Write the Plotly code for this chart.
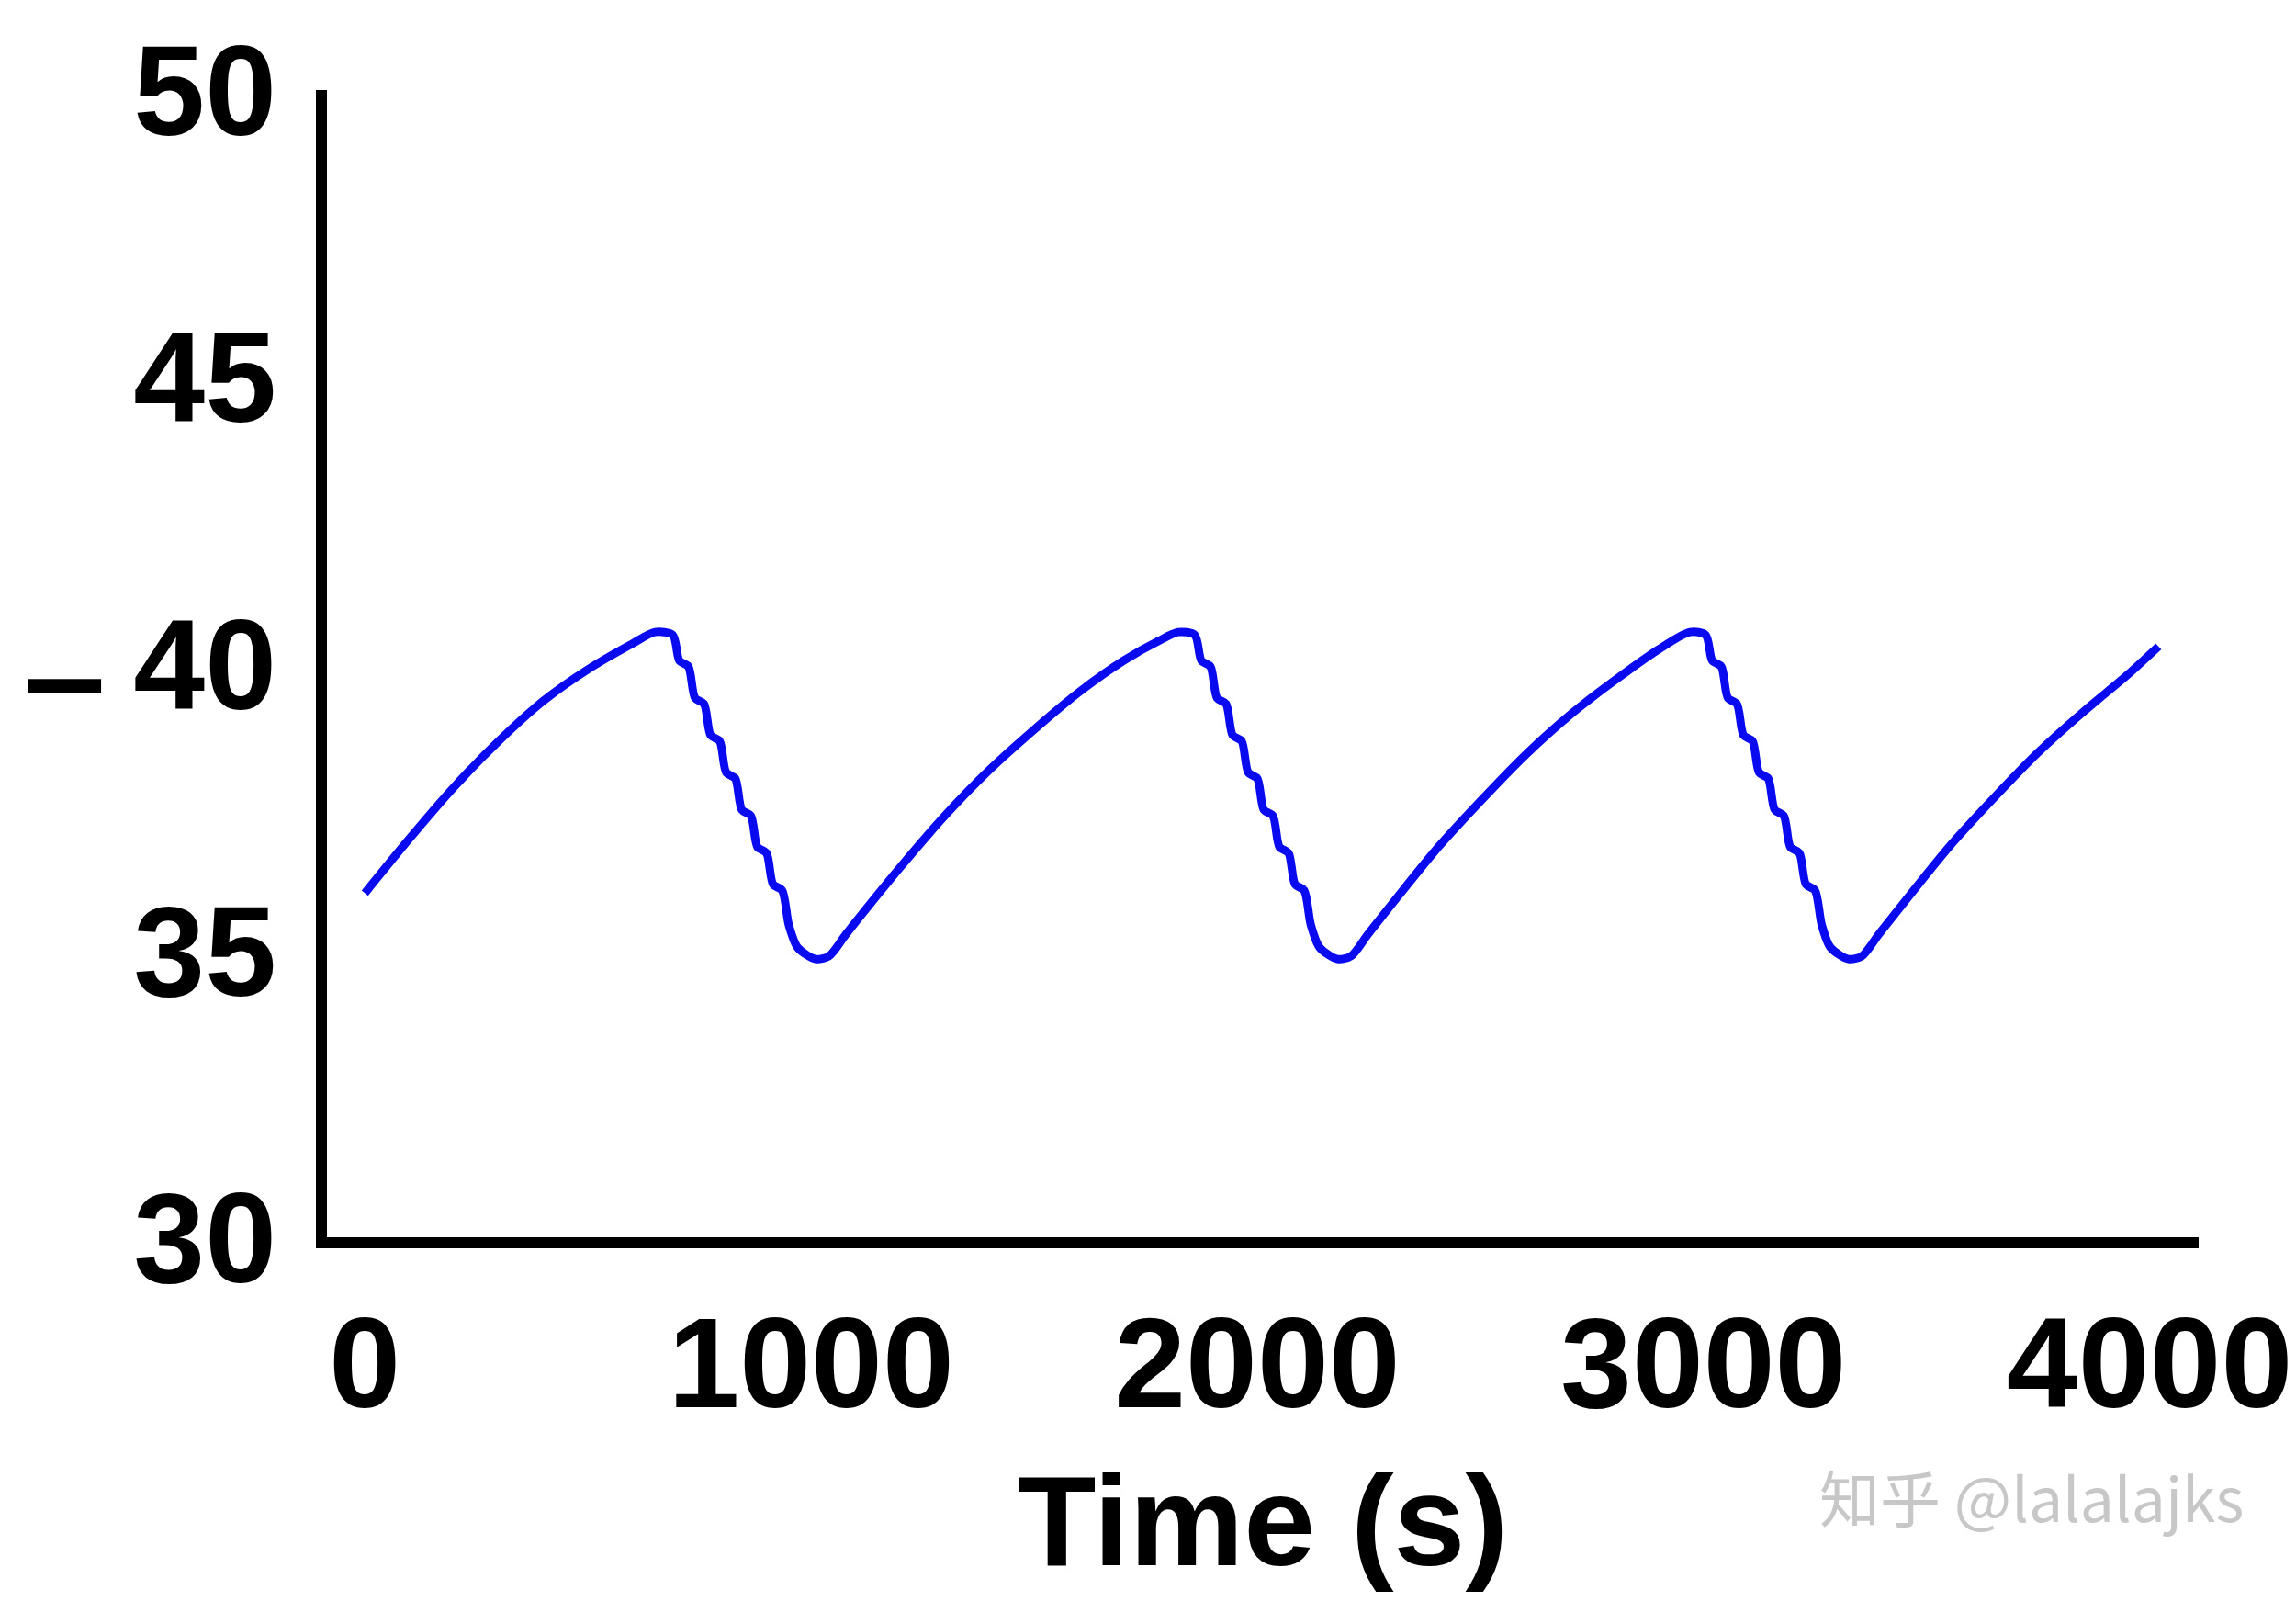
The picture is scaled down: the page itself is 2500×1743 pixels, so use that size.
import plotly.graph_objects as go

time_s = [0, 100, 200, 300, 400, 500, 600, 650, 690,
          705, 725, 740, 760, 775, 795, 810, 830, 845, 865, 880, 900, 915, 935, 950, 970,
          1010, 1040, 1080, 1200, 1300, 1400, 1500, 1600, 1700, 1780, 1823,
          1860, 1875, 1895, 1910, 1930, 1945, 1965, 1980, 2000, 2015, 2035, 2050, 2070, 2085, 2105, 2120, 2140,
          2180, 2210, 2250, 2400, 2500, 2600, 2700, 2800, 2900, 2970,
          3005, 3020, 3040, 3055, 3075, 3090, 3110, 3125, 3145, 3160, 3180, 3195, 3215, 3230, 3250, 3265, 3285,
          3325, 3355, 3395, 3550, 3650, 3750, 3850, 3950, 4020]
value = [36.0, 36.95, 37.85, 38.65, 39.35, 39.9, 40.35, 40.55, 40.5,
         40.05, 39.95, 39.4, 39.3, 38.75, 38.65, 38.1, 38.0, 37.45, 37.35, 36.8, 36.7, 36.15, 36.05, 35.45, 35.05,
         34.85, 34.9, 35.3, 36.45, 37.35, 38.15, 38.85, 39.5, 40.05, 40.4, 40.55,
         40.5, 40.05, 39.95, 39.4, 39.3, 38.75, 38.65, 38.1, 38.0, 37.45, 37.35, 36.8, 36.7, 36.15, 36.05, 35.45, 35.05,
         34.85, 34.9, 35.3, 36.75, 37.6, 38.4, 39.1, 39.7, 40.25, 40.55,
         40.5, 40.05, 39.95, 39.4, 39.3, 38.75, 38.65, 38.1, 38.0, 37.45, 37.35, 36.8, 36.7, 36.15, 36.05, 35.45, 35.05,
         34.85, 34.9, 35.3, 36.8, 37.65, 38.45, 39.15, 39.8, 40.3]

x_ticks = [0, 1000, 2000, 3000, 4000]
y_ticks = [30, 35, 40, 45, 50]

font = dict(family="Liberation Sans", size=140, color="black", weight="bold")

fig = go.Figure(go.Scatter(
    x=time_s, y=value, mode="lines",
    line=dict(color="rgb(10,10,240)", width=9, shape="spline", smoothing=0.8),
))

fig.update_layout(
    width=2500, height=1743,
    plot_bgcolor="white", paper_bgcolor="white",
    margin=dict(l=348, r=114, t=87, b=404),
    showlegend=False,
    font=font,
    xaxis=dict(
        range=[-85, 4110], tickvals=x_ticks, showgrid=False, zeroline=False,
        showline=True, linecolor="black", linewidth=12, ticks="",
        tickfont=font, ticklabelstandoff=5,
        title=dict(text="Time (s)", font=dict(family="Liberation Sans", size=140, weight="bold"), standoff=50),
    ),
    yaxis=dict(
        range=[30, 50], tickvals=y_ticks, showgrid=False, zeroline=False,
        showline=True, linecolor="black", linewidth=12, ticks="",
        tickfont=font, ticklabelstandoff=15,
    ),
    annotations=[
        dict(text="–", xref="paper", yref="paper", x=-0.14, y=0.49,
             xanchor="center", yanchor="middle", showarrow=False,
             font=dict(family="Liberation Sans", size=160, weight="bold")),
        dict(text="知乎 @lalalajks", xref="paper", yref="paper", x=1.025, y=-0.225,
             xanchor="right", yanchor="middle", showarrow=False,
             font=dict(family="Noto Sans CJK SC", size=66, color="rgba(185,185,185,0.8)", weight="normal")),
    ],
)

fig.write_html("out.html")
